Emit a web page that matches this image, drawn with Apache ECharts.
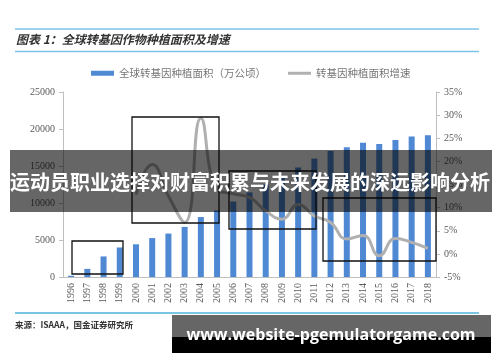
<!DOCTYPE html>
<html><head><meta charset="utf-8">
<script src="https://cdn.jsdelivr.net/npm/echarts@6/dist/echarts.min.js"></script>
<style>html,body{margin:0;padding:0;background:#fff}#c{width:500px;height:362px}</style>
</head><body><div id="c"></div>
<script>
var years = ['1996','1997','1998','1999','2000','2001','2002','2003','2004','2005','2006','2007','2008','2009','2010','2011','2012','2013','2014','2015','2016','2017','2018'];
var area = [170,1100,2780,3990,4420,5260,5870,6770,8100,9000,10200,11430,12500,13400,14800,16000,17030,17520,18150,17970,18510,18980,19170];
var growth = [null,null,null,null,12.8,19.3,12.5,6.8,29.3,14.0,13.0,12.2,9.3,7.5,10.7,8.2,6.8,3.2,4.0,-0.4,3.3,2.5,1.2];
var leftTicks = [0,25000,5000];
var rightTicks = [-5,35,5];

var chart = echarts.init(document.getElementById('c'), null, {renderer:'canvas'});
var serif = '"Liberation Serif", "Times New Roman", serif';
var cjk = 'Noto Sans CJK SC';
chart.setOption({
  animation:false,
  backgroundColor:'#fff',
  grid:{left:63,right:64,top:92,bottom:85,containLabel:false},
  legend:{
    left:86, top:63, itemWidth:23, itemHeight:5, itemGap:22,
    textStyle:{fontFamily:cjk,fontSize:10.5,color:'#777'},
    data:[{name:'全球转基因种植面积（万公顷）',icon:'rect'},
          {name:'转基因种植面积增速',icon:'path://M0,0L23,0L23,3L0,3Z',itemStyle:{color:'#b0b0b0'}}]
  },
  xAxis:{
    type:'category', data:years,
    axisLine:{lineStyle:{color:'#bfbfbf'}},
    axisTick:{lineStyle:{color:'#bfbfbf'},length:4},
    axisLabel:{rotate:90,fontFamily:serif,fontSize:10,color:'#595959',margin:6,interval:0}
  },
  yAxis:[{
    type:'value', min:leftTicks[0], max:leftTicks[1], interval:leftTicks[2],
    axisLine:{show:true,lineStyle:{color:'#bfbfbf'}},
    axisTick:{show:true,length:4,lineStyle:{color:'#bfbfbf'}},
    splitLine:{show:false},
    axisLabel:{fontFamily:serif,fontSize:10,color:'#595959',margin:8,formatter:function(v){return String(v);}}
  },{
    type:'value', min:rightTicks[0], max:rightTicks[1], interval:rightTicks[2],
    axisLine:{show:true,lineStyle:{color:'#bfbfbf'}},
    axisTick:{show:true,length:4,lineStyle:{color:'#bfbfbf'}},
    splitLine:{show:false},
    axisLabel:{fontFamily:serif,fontSize:10,color:'#595959',margin:8,formatter:'{value}%'}
  }],
  series:[{
    name:'全球转基因种植面积（万公顷）', type:'bar', data:area, barWidth:6,
    itemStyle:{color:'#4f89d4'}
  },{
    name:'转基因种植面积增速', type:'line', yAxisIndex:1, data:growth, smooth:0.5,
    symbol:'none', connectNulls:false,
    lineStyle:{color:'#b0b0b0',width:3},
    itemStyle:{color:'#b0b0b0'}
  }],
  graphic:[
    {type:'line',shape:{x1:15,y1:29,x2:479,y2:29},style:{stroke:'#7cc4e6',lineWidth:1.5},z:10},
    {type:'line',shape:{x1:15,y1:51.5,x2:479,y2:51.5},style:{stroke:'#7cc4e6',lineWidth:1.5},z:10},
    {type:'text',left:16,top:33,style:{text:'图表 1：全球转基因作物种植面积及增速',font:'italic bold 12px "Noto Sans CJK SC"',fill:'#333'},z:10},
    {type:'line',shape:{x1:15,y1:313,x2:479,y2:313},style:{stroke:'#7cc4e6',lineWidth:2},z:10},
    {type:'text',left:15,top:321,style:{text:'来源：ISAAA，国金证券研究所',font:'bold 8.5px "Noto Sans CJK SC"',fill:'#333'},z:10},
    {type:'rect',shape:{x:72,y:241,width:51,height:33},style:{fill:'none',stroke:'#111',lineWidth:1.3},z:20},
    {type:'rect',shape:{x:132,y:117,width:87,height:106},style:{fill:'none',stroke:'#111',lineWidth:1.3},z:20},
    {type:'rect',shape:{x:229,y:171,width:87,height:58},style:{fill:'none',stroke:'#111',lineWidth:1.3},z:20},
    {type:'rect',shape:{x:323,y:198,width:113,height:63},style:{fill:'none',stroke:'#111',lineWidth:1.3},z:20},
    {type:'rect',shape:{x:10,y:150,width:482,height:62},style:{fill:'rgba(0,0,0,0.6)'},z:30},
    {type:'text',x:250,y:182,style:{text:'运动员职业选择对财富积累与未来发展的深远影响分析',font:'bold 20px "Noto Sans CJK SC"',fill:'#fff',textAlign:'center',textVerticalAlign:'middle'},z:31},
    {type:'rect',shape:{x:172,y:315,width:319,height:22},style:{fill:'#666'},z:30},
    {type:'rect',shape:{x:172,y:337,width:319,height:16},style:{fill:'#000'},z:30},
    {type:'text',x:331,y:335,style:{text:'www.website-pgemulatorgame.com',font:'bold 16px "Open Sans"',fill:'#fff',textAlign:'center',textVerticalAlign:'middle'},z:31}
  ]
});
</script></body></html>
